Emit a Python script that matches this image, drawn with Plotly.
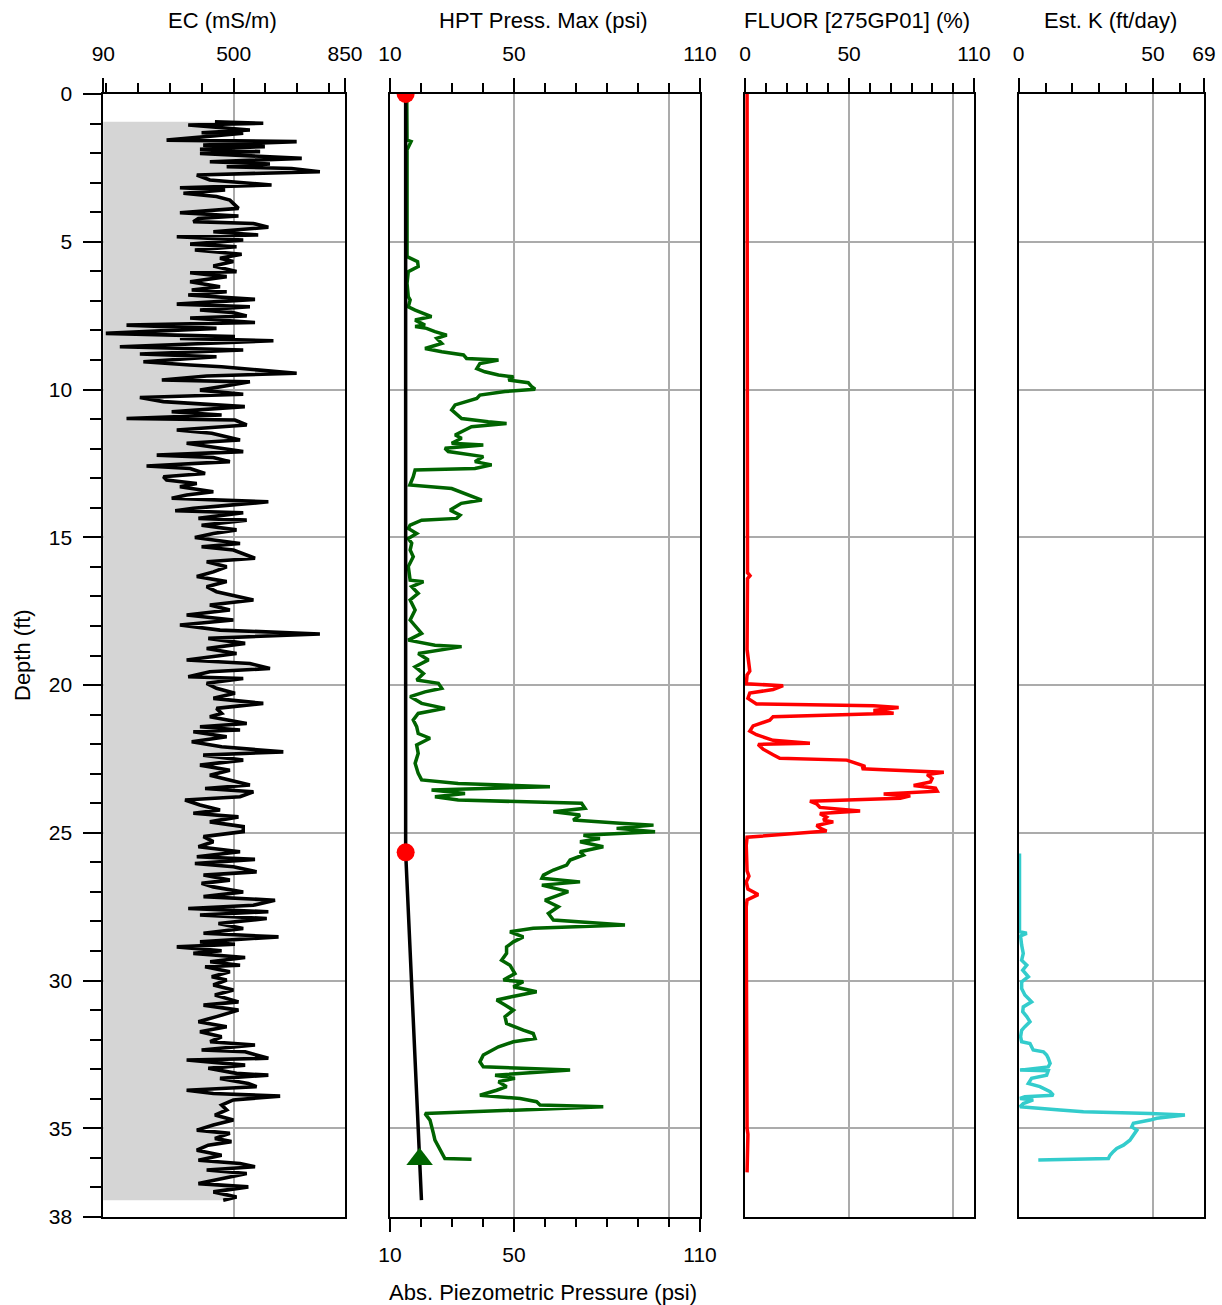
import plotly.graph_objects as go

W, H = 1222, 1305
FONT = "Liberation Sans"

# ---------------- data (depth ft, value) ----------------
ec_log = [
    (0.94, 441), (0.99, 593), (1.05, 357), (1.22, 551), (1.31, 399), (1.33, 530), (1.56, 289), (1.61, 698),
    (1.73, 404), (1.78, 598), (1.87, 394), (1.95, 583), (2.01, 394), (2.18, 714), (2.29, 425), (2.37, 614),
    (2.46, 478), (2.52, 682), (2.63, 771), (2.74, 384), (2.91, 425), (3.08, 619), (3.17, 331), (3.25, 473),
    (3.36, 342), (3.47, 446), (3.59, 488), (3.70, 499), (3.87, 515), (4.02, 331), (4.13, 515), (4.21, 389),
    (4.32, 373), (4.38, 562), (4.51, 609), (4.66, 436), (4.77, 577), (4.83, 321), (4.94, 530), (5.08, 363),
    (5.17, 509), (5.28, 378), (5.42, 525), (5.56, 457), (5.67, 499), (5.82, 436), (6.01, 509), (6.05, 363),
    (6.18, 478), (6.35, 363), (6.52, 457), (6.63, 368), (6.69, 478), (6.80, 357), (6.95, 567), (7.11, 321),
    (7.20, 551), (7.31, 394), (7.39, 494), (7.51, 541), (7.58, 363), (7.73, 567), (7.82, 163), (7.93, 446),
    (8.10, 98), (8.21, 504), (8.27, 331), (8.35, 625), (8.55, 142), (8.66, 530), (8.80, 205), (8.89, 446),
    (9.06, 216), (9.17, 363), (9.23, 462), (9.45, 698), (9.54, 415), (9.68, 274), (9.74, 551), (9.87, 478),
    (10.02, 394), (10.16, 530), (10.27, 205), (10.41, 279), (10.58, 535), (10.75, 305), (10.86, 462),
    (10.98, 163), (11.03, 504), (11.20, 541), (11.37, 321),
    (11.48, 431), (11.71, 520), (11.82, 352), (12.10, 530), (12.22, 258), (12.30, 436), (12.44, 488),
    (12.59, 226), (12.67, 363), (12.84, 410), (12.95, 279), (13.06, 289), (13.18, 384), (13.29, 331),
    (13.46, 436), (13.57, 352), (13.68, 305), (13.80, 609), (14.02, 373), (14.10, 316), (14.17, 530),
    (14.36, 389), (14.42, 541), (14.59, 399), (14.75, 509), (14.87, 436), (15.01, 378), (15.21, 520),
    (15.32, 399), (15.43, 499), (15.71, 567), (15.83, 415), (16.00, 478), (16.17, 436), (16.33, 384),
    (16.50, 478), (16.67, 415), (16.84, 446), (17.12, 562), (17.29, 425), (17.46, 488), (17.63, 352),
    (17.80, 499), (17.97, 331), (18.14, 457), (18.27, 771), (18.42, 420), (18.59, 536), (18.76, 415),
    (18.93, 509), (19.15, 352), (19.27, 551), (19.44, 614), (19.55, 425), (19.72, 357), (19.78, 530),
    (19.94, 415), (20.11, 446), (20.28, 504), (20.45, 436), (20.62, 593), (20.79, 446), (20.96, 462),
    (21.07, 425), (21.30, 541), (21.41, 394), (21.52, 520), (21.58, 373), (21.75, 478), (21.92, 368),
    (22.09, 462), (22.26, 656), (22.37, 404), (22.54, 530), (22.71, 394), (22.88, 488), (23.05, 425),
    (23.22, 488), (23.38, 551), (23.50, 410), (23.61, 562), (23.78, 520), (23.89, 347), (24.06, 394),
    (24.23, 457), (24.34, 373), (24.46, 515), (24.63, 425), (24.79, 530),
    (24.96, 530), (25.13, 405), (25.30, 436), (25.47, 389), (25.64, 520), (25.81, 384), (25.90, 567),
    (26.04, 378), (26.15, 499), (26.32, 572), (26.43, 405), (26.60, 488), (26.71, 399), (26.83, 436),
    (27.00, 530), (27.16, 405), (27.28, 630), (27.45, 562), (27.56, 357), (27.67, 609), (27.78, 394),
    (27.90, 604), (28.07, 452), (28.24, 530), (28.40, 405), (28.52, 641), (28.69, 394), (28.77, 504),
    (28.86, 321), (28.99, 462), (29.08, 373), (29.22, 536), (29.36, 426), (29.48, 520), (29.53, 410),
    (29.70, 488), (29.87, 431), (29.98, 478), (30.15, 436), (30.32, 499), (30.49, 441), (30.72, 515),
    (30.83, 405), (31.00, 515), (31.22, 446), (31.39, 389), (31.56, 478), (31.73, 394), (31.90, 462),
    (32.07, 426), (32.18, 567), (32.35, 399), (32.41, 536), (32.63, 609), (32.69, 352), (32.86, 536),
    (32.97, 420), (33.14, 509), (33.20, 609), (33.31, 457), (33.48, 546), (33.59, 572), (33.71, 352),
    (33.82, 436), (33.91, 646), (34.04, 499), (34.21, 462), (34.38, 478), (34.55, 441), (34.72, 499),
    (34.89, 436), (35.06, 384), (35.17, 488), (35.34, 441), (35.45, 493), (35.57, 420), (35.74, 384),
    (35.91, 462), (36.08, 389), (36.19, 520), (36.30, 567), (36.41, 415), (36.53, 541), (36.70, 462),
    (36.87, 389), (36.98, 546), (37.15, 436), (37.32, 509), (37.43, 467),
]

hpt_log = [
    (0.00, 15.4), (1.56, 15.5), (1.61, 16.8), (1.78, 16.1), (1.89, 15.5), (5.50, 15.5), (5.67, 18.9),
    (5.84, 19.1), (6.01, 15.9), (6.41, 15.5), (6.86, 15.9), (6.97, 16.5), (7.20, 15.9), (7.31, 18.1),
    (7.53, 23.4), (7.65, 18.1), (7.82, 21.3), (7.87, 18.1), (7.93, 21.8), (8.04, 24.5), (8.16, 28.3),
    (8.27, 25.1), (8.44, 26.7), (8.61, 21.3), (8.72, 26.7), (8.83, 33.7), (8.95, 34.7), (9.00, 45.0),
    (9.12, 39.0), (9.29, 38.0), (9.40, 40.6), (9.51, 45.0), (9.57, 49.8), (9.68, 48.2), (9.77, 54.6),
    (9.90, 55.7), (9.99, 56.8), (10.07, 47.1), (10.19, 39.0), (10.30, 38.0), (10.41, 34.7), (10.52, 31.0),
    (10.69, 29.9), (10.86, 32.0), (10.98, 33.1), (11.09, 41.7), (11.15, 47.6), (11.26, 36.3), (11.37, 34.2),
    (11.54, 31.0), (11.65, 33.1), (11.82, 29.9), (11.88, 40.1), (11.99, 27.7), (12.10, 28.8), (12.22, 37.4),
    (12.27, 40.1), (12.44, 37.4), (12.55, 42.8), (12.67, 37.4), (12.72, 18.1), (12.95, 17.5), (13.23, 16.4),
    (13.35, 29.9), (13.51, 34.2), (13.74, 39.6), (13.85, 33.0), (14.08, 29.4), (14.25, 32.6), (14.36, 31.5),
    (14.42, 20.2), (14.59, 16.5), (14.70, 15.9), (14.87, 18.6), (15.04, 15.9), (15.20, 17.0), (15.43, 16.5),
    (15.66, 17.5), (15.99, 15.9), (16.45, 16.5), (16.50, 20.8), (16.67, 17.0), (16.90, 19.1), (17.12, 16.5),
    (17.46, 18.1), (17.80, 16.5), (18.25, 20.2), (18.48, 15.9), (18.65, 24.5), (18.70, 33.1), (18.93, 19.1),
    (19.15, 22.4), (19.38, 18.1), (19.61, 20.8), (19.83, 18.6), (19.94, 25.6), (20.11, 26.7), (20.23, 21.3),
    (20.39, 16.5), (20.62, 20.2), (20.79, 27.7), (20.96, 19.1), (21.18, 17.5), (21.41, 18.6), (21.64, 19.1),
    (21.80, 22.9), (22.03, 18.6), (22.31, 19.1), (22.65, 18.1), (22.99, 19.1), (23.21, 20.2), (23.33, 32.0),
    (23.44, 61.6), (23.55, 23.4), (23.67, 34.2), (23.78, 24.5), (23.89, 32.0), (24.00, 71.8), (24.17, 72.9),
    (24.29, 62.7), (24.40, 71.3), (24.57, 69.1), (24.68, 84.2), (24.74, 95.0), (24.85, 83.1), (24.96, 95.5),
    (25.08, 72.4), (25.19, 77.7), (25.30, 71.3), (25.47, 78.8), (25.64, 71.3), (25.75, 72.4), (25.92, 68.1),
    (26.09, 67.0), (26.26, 62.7), (26.43, 59.5), (26.54, 59.0), (26.66, 71.3), (26.77, 59.0), (26.99, 67.5),
    (27.28, 60.0), (27.50, 64.3), (27.73, 61.1), (27.95, 62.7), (28.12, 85.8), (28.23, 56.2), (28.35, 48.7),
    (28.52, 53.0), (28.69, 49.8), (28.86, 47.6), (29.08, 47.6), (29.31, 46.0), (29.48, 48.7), (29.76, 50.3),
    (29.98, 46.6), (30.04, 53.0), (30.21, 49.8), (30.38, 57.3), (30.55, 49.2), (30.66, 44.4), (30.83, 47.1),
    (31.00, 49.8), (31.22, 47.1), (31.45, 47.6), (31.68, 53.0), (31.79, 56.2), (31.96, 56.8), (32.07, 49.8),
    (32.24, 45.0), (32.52, 40.1), (32.75, 39.0), (32.92, 40.1), (33.03, 68.1), (33.20, 43.9), (33.31, 50.3),
    (33.42, 45.0), (33.59, 47.6), (33.71, 44.4), (33.88, 39.0), (33.99, 52.0), (34.10, 57.3), (34.21, 58.4),
    (34.27, 78.8), (34.38, 49.8), (34.44, 35.8), (34.50, 21.3), (34.72, 22.9), (34.89, 23.4), (35.17, 24.0),
    (35.40, 24.5), (35.62, 25.6), (35.85, 26.7), (36.02, 27.7), (36.05, 36.3),
]

piezo_depth = [0.0, 25.66, 37.43]
piezo_psi = [15.05, 15.05, 20.15]
dot_depth = [0.0, 25.66]
dot_psi = [15.05, 15.05]
tri_depth = [36.05]
tri_psi = [19.55]

fluor_log = [
    (0.0, 1.0), (5.0, 1.1), (10.0, 1.0), (15.0, 1.2), (16.2, 1.2), (16.3, 2.4), (16.4, 1.2), (18.80, 1.0),
    (19.53, 2.3), (19.66, 1.0), (19.96, 0.6), (20.02, 18.3), (20.15, 13.5), (20.27, 2.3), (20.45, 1.4),
    (20.64, 5.5), (20.70, 61.7), (20.76, 73.8), (20.86, 61.7), (20.95, 71.4), (21.07, 13.5), (21.19, 11.9),
    (21.38, 3.9), (21.56, 2.3), (21.68, 5.5), (21.87, 13.5), (21.97, 31.2), (22.01, 6.3), (22.17, 8.7),
    (22.36, 13.5), (22.48, 16.7), (22.54, 48.9), (22.67, 54.5), (22.75, 57.7), (22.83, 56.1), (22.87, 66.6),
    (22.95, 95.5), (23.03, 87.5), (23.16, 89.9), (23.28, 89.1), (23.40, 81.0), (23.49, 91.5), (23.59, 92.3),
    (23.65, 74.6), (23.69, 66.6), (23.75, 79.4), (23.83, 74.6), (23.93, 31.2), (24.02, 34.4), (24.14, 36.0),
    (24.26, 55.3), (24.35, 36.0), (24.47, 39.2), (24.57, 37.6), (24.63, 42.4), (24.75, 34.4), (24.84, 36.0),
    (24.94, 39.2), (25.06, 18.3), (25.15, 1.0), (25.43, 0.6), (26.29, 1.0), (26.47, 1.9), (26.66, 0.6),
    (26.90, 1.4), (27.09, 6.3), (27.27, 1.0), (27.50, 0.6), (30.0, 0.7), (33.0, 0.8), (35.0, 1.0),
    (35.2, 1.4), (36.49, 1.0),
]

k_log = [
    (25.70, 0.3), (28.35, 0.3), (28.40, 3.0), (28.49, 0.7), (28.80, 1.1), (29.08, 1.7), (29.31, 1.1),
    (29.48, 3.0), (29.65, 1.5), (29.87, 3.6), (30.04, 1.1), (30.27, 1.1), (30.49, 2.3), (30.72, 4.8),
    (30.89, 1.7), (31.05, 1.5), (31.22, 3.0), (31.39, 4.2), (31.56, 2.3), (31.68, 1.1), (31.90, 0.7),
    (32.07, 1.1), (32.13, 4.2), (32.35, 5.4), (32.41, 9.2), (32.52, 10.4), (32.63, 11.0), (32.80, 11.7),
    (32.92, 11.0), (33.03, 0.5), (33.05, 11.0), (33.20, 10.4), (33.31, 4.8), (33.48, 3.6), (33.59, 7.9),
    (33.76, 11.7), (33.88, 12.9), (33.93, 2.3), (33.99, 0.5), (34.04, 5.4), (34.16, 1.7), (34.27, 0.5),
    (34.38, 15.4), (34.44, 24.1), (34.50, 48.9), (34.55, 61.9), (34.66, 51.4), (34.72, 48.9), (34.83, 42.7),
    (34.95, 42.1), (35.06, 44.0), (35.23, 42.7), (35.40, 41.4), (35.57, 39.0), (35.68, 36.5), (35.79, 35.2),
    (35.91, 34.0), (36.02, 33.4), (36.07, 7.3),
]

# ---------------- ticks ----------------
ec_ticks = [90, 500, 850]
ec_minor = [100, 200, 300, 400, 600, 700, 800]
hpt_ticks = [10, 50, 110]
hpt_minor = [20, 30, 40, 60, 70, 80, 90, 100]
hpt_grid = [50, 100]
fl_ticks = [0, 50, 110]
fl_minor = [10, 20, 30, 40, 60, 70, 80, 90, 100]
fl_grid = [50, 100]
k_ticks = [0, 50, 69]
k_minor = [10, 20, 30, 40, 60]
depth_ticks = [0, 5, 10, 15, 20, 25, 30, 35, 38]
depth_minor = [d for d in range(1, 38) if d % 5 != 0]
depth_grid = [5, 10, 15, 20, 25, 30, 35]

EC_RANGE = [90, 850]
HPT_RANGE = [10, 110]
FL_RANGE = [0, 110]
K_RANGE = [0, 69]
DEPTH_RANGE = [38, 0]

# ---------------- layout helpers ----------------
def fx(p):
    return p / W

def fy(p):
    return 1 - p / H

Y_DOM = [fy(1217), fy(94)]
EC_DOM = [fx(103.3), fx(345)]
HPT_DOM = [fx(390), fx(700)]
FL_DOM = [fx(745), fx(974)]
K_DOM = [fx(1018.7), fx(1204)]

GRID = "#ababab"
TICKFONT = dict(family=FONT, size=21, color="black")


def unzip(log):
    return [p[0] for p in log], [p[1] for p in log]


fig = go.Figure()

ec_d, ec_v = unzip(ec_log)
fig.add_trace(go.Scatter(x=ec_v, y=ec_d, mode="lines", fill="tozerox", fillcolor="#d5d5d5",
                         line=dict(color="black", width=3.6), xaxis="x", yaxis="y",
                         showlegend=False, hoverinfo="skip"))

hpt_d, hpt_v = unzip(hpt_log)
fig.add_trace(go.Scatter(x=hpt_v, y=hpt_d, mode="lines", line=dict(color="#006400", width=3.5),
                         xaxis="x2", yaxis="y2", showlegend=False, hoverinfo="skip"))
fig.add_trace(go.Scatter(x=piezo_psi, y=piezo_depth, mode="lines", line=dict(color="black", width=3.5),
                         xaxis="x2", yaxis="y2", showlegend=False, hoverinfo="skip"))
fig.add_trace(go.Scatter(x=dot_psi, y=dot_depth, mode="markers", marker=dict(color="red", size=18),
                         xaxis="x2", yaxis="y2", showlegend=False, hoverinfo="skip", cliponaxis=True))
fig.add_trace(go.Scatter(x=tri_psi, y=tri_depth, mode="markers",
                         marker=dict(color="#006400", size=23, symbol="triangle-up"),
                         xaxis="x2", yaxis="y2", showlegend=False, hoverinfo="skip"))

fl_d, fl_v = unzip(fluor_log)
fig.add_trace(go.Scatter(x=fl_v, y=fl_d, mode="lines", line=dict(color="#ff0000", width=3.5),
                         xaxis="x3", yaxis="y3", showlegend=False, hoverinfo="skip"))

k_d, k_v = unzip(k_log)
fig.add_trace(go.Scatter(x=k_v, y=k_d, mode="lines", line=dict(color="#33cccc", width=3.5),
                         xaxis="x4", yaxis="y4", showlegend=False, hoverinfo="skip"))

# empty traces to register the overlay axes
for xa, ya in (("x5", "y2"), ("x6", "y2"), ("x7", "y3")):
    fig.add_trace(go.Scatter(x=[], y=[], xaxis=xa, yaxis=ya, showlegend=False, hoverinfo="skip"))


def top_axis(rng, dom, ticks, minor, anchor, grid=False):
    return dict(
        range=rng, domain=dom, side="top", anchor=anchor, automargin=False,
        tickmode="array", tickvals=ticks, ticktext=[str(t) for t in ticks],
        ticks="outside", ticklen=14, tickwidth=2, tickcolor="black",
        ticklabelstandoff=9, tickfont=TICKFONT,
        minor=dict(tickmode="array", tickvals=minor, ticks="outside", ticklen=9,
                   tickwidth=2, tickcolor="black", showgrid=False),
        showgrid=grid, gridcolor=GRID, gridwidth=2,
        showline=True, linecolor="black", linewidth=2, mirror=True,
        zeroline=False, fixedrange=True,
    )


def grid_axis(rng, dom, vals, anchor, overlay):
    return dict(
        range=rng, domain=dom, anchor=anchor, overlaying=overlay, automargin=False,
        tickmode="array", tickvals=vals, ticks="", showticklabels=False,
        showgrid=True, gridcolor=GRID, gridwidth=2, showline=False,
        zeroline=False, fixedrange=True,
    )


def depth_axis(anchor, labels=False):
    d = dict(range=DEPTH_RANGE, domain=Y_DOM, anchor=anchor, automargin=False,
             showline=True, linecolor="black", linewidth=2, mirror=True,
             showgrid=True, gridcolor=GRID, gridwidth=2, zeroline=False, fixedrange=True)
    if labels:
        d.update(tickmode="array", tickvals=depth_ticks, ticktext=[str(t) for t in depth_ticks],
                 ticks="outside", ticklen=18, tickwidth=2, tickcolor="black",
                 ticklabelstandoff=7, tickfont=TICKFONT,
                 minor=dict(tickmode="array", tickvals=depth_minor, ticks="outside", ticklen=11,
                            tickwidth=2, tickcolor="black", showgrid=False))
    else:
        d.update(tickmode="array", tickvals=depth_grid, ticks="", showticklabels=False)
    return d


bottom_hpt = dict(
    range=HPT_RANGE, domain=HPT_DOM, side="bottom", anchor="y2", overlaying="x2", automargin=False,
    tickmode="array", tickvals=hpt_ticks, ticktext=[str(t) for t in hpt_ticks],
    ticks="outside", ticklen=14, tickwidth=2, tickcolor="black",
    ticklabelstandoff=5, tickfont=TICKFONT,
    minor=dict(tickmode="array", tickvals=hpt_minor, ticks="outside", ticklen=9,
               tickwidth=2, tickcolor="black", showgrid=False),
    showgrid=False, showline=False, zeroline=False, fixedrange=True,
)

TITLE_FONT = dict(family=FONT, size=22, color="black")
annotations = [
    dict(text="EC (mS/m)", x=fx(222), y=fy(20)),
    dict(text="HPT Press. Max (psi)", x=fx(543), y=fy(20)),
    dict(text="FLUOR [275GP01] (%)", x=fx(857), y=fy(20)),
    dict(text="Est. K (ft/day)", x=fx(1110), y=fy(20)),
    dict(text="Abs. Piezometric Pressure (psi)", x=fx(543), y=fy(1292)),
    dict(text="Depth (ft)", x=fx(22), y=fy(655), textangle=-90),
]
for a in annotations:
    a.update(xref="paper", yref="paper", xanchor="center", yanchor="middle",
             showarrow=False, font=TITLE_FONT)

fig.update_layout(
    template="none",
    width=W, height=H, autosize=False,
    margin=dict(l=0, r=0, t=0, b=0, pad=0, autoexpand=False),
    paper_bgcolor="white", plot_bgcolor="white",
    font=dict(family=FONT, color="black"),
    showlegend=False,
    xaxis=top_axis(EC_RANGE, EC_DOM, ec_ticks, ec_minor, "y", grid=True),
    xaxis2=top_axis(HPT_RANGE, HPT_DOM, hpt_ticks, hpt_minor, "y2"),
    xaxis3=top_axis(FL_RANGE, FL_DOM, fl_ticks, fl_minor, "y3"),
    xaxis4=top_axis(K_RANGE, K_DOM, k_ticks, k_minor, "y4", grid=True),
    xaxis5=bottom_hpt,
    xaxis6=grid_axis(HPT_RANGE, HPT_DOM, hpt_grid, "y2", "x2"),
    xaxis7=grid_axis(FL_RANGE, FL_DOM, fl_grid, "y3", "x3"),
    yaxis=depth_axis("x", labels=True),
    yaxis2=depth_axis("x2"),
    yaxis3=depth_axis("x3"),
    yaxis4=depth_axis("x4"),
    annotations=annotations,
)

fig.write_html(
    "out.html",
    include_plotlyjs=True,
    config={"displayModeBar": False, "staticPlot": True},
    post_script="document.body.style.margin='0';document.body.style.overflow='hidden';",
)
